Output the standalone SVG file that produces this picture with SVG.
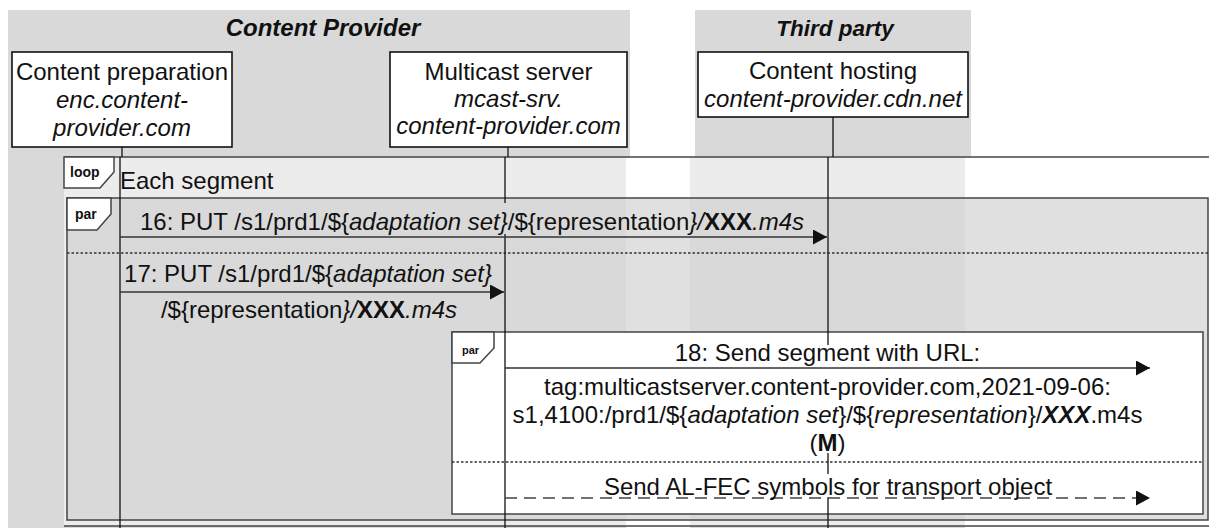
<svg xmlns="http://www.w3.org/2000/svg" width="1209" height="528" viewBox="0 0 1209 528">
<defs>
<style>
.t{font-family:"Liberation Sans",Arial,sans-serif;font-size:24px;fill:#111}
.tm{text-anchor:middle}
.i{font-style:italic}
.b{font-weight:bold}
.ttl{font-family:"Liberation Sans",Arial,sans-serif;font-weight:bold;font-style:italic;fill:#111;text-anchor:middle}
.tab{font-family:"Liberation Sans",Arial,sans-serif;font-weight:bold;fill:#111}
.band{fill:#d9d9d9}
.node{fill:#fff;stroke:#111;stroke-width:1.6}
.frame{stroke:#444;stroke-width:1.5}
.tabshape{fill:#fff;stroke:#444;stroke-width:1.5}
.sep{stroke:#333;stroke-width:1.3;stroke-dasharray:2.5 2;fill:none}
.life{stroke:#111;stroke-width:1.3;fill:none}
.msg{stroke:#333;stroke-width:1.5;fill:none}
.dash{stroke:#444;stroke-width:1.5;stroke-dasharray:12 7;fill:none}
</style>
<marker id="ah" markerUnits="userSpaceOnUse" markerWidth="16" markerHeight="16" refX="14" refY="7.5" orient="auto">
<path d="M0,0 L14,7.5 L0,15 z" fill="#111"/>
</marker>
</defs>
<rect width="1209" height="528" fill="#fff"/>

<g id="lanes">
<rect class="band" x="8" y="10" width="622" height="147"/>
<rect class="band" x="8" y="157" width="618" height="371"/>
<rect class="band" x="695" y="10" width="276" height="147"/>
<rect class="band" x="690" y="157" width="275" height="371"/>
<text class="ttl" x="323" y="36" font-size="24">Content Provider</text>
<text class="ttl" x="835" y="36" font-size="22.5">Third party</text>
</g>

<g id="loop">
<rect x="64" y="157" width="1145" height="369" fill="#fff" fill-opacity="0.5"/>
<line class="frame" x1="64" y1="157" x2="1209" y2="157"/>
<line class="frame" x1="64" y1="526" x2="1209" y2="526"/>
<path class="tabshape" d="M64,157 H114 V172 L100,188 H64 Z"/>
<text class="tab" x="70" y="177" font-size="14">loop</text>
<text class="t" x="120" y="189">Each segment</text>
</g>

<g id="par-outer">
<rect class="frame" x="67" y="198" width="1141" height="322" fill="rgb(206,206,206)" fill-opacity="0.632"/>
<path class="tabshape" d="M67,198 H111 V214 L97,230 H67 Z"/>
<text class="tab" x="75" y="219" font-size="14">par</text>
<line class="sep" x1="67" y1="253" x2="1208" y2="253"/>
</g>

<g id="par-inner">
<rect class="frame" x="452" y="332" width="751" height="182" fill="#fff"/>
<path class="tabshape" d="M452,332 H494 V348 L480,363 H452 Z"/>
<text class="tab" x="462" y="354" font-size="11">par</text>
<line class="sep" x1="452" y1="462" x2="1203" y2="462"/>
</g>

<g id="lifelines">
<line class="life" x1="122" y1="147" x2="122" y2="157"/>
<line class="life" x1="508" y1="147" x2="508" y2="157"/>
<line class="life" x1="833" y1="117" x2="833" y2="157"/>
<line class="life" x1="120" y1="157" x2="120" y2="528"/>
<line class="life" x1="505" y1="157" x2="505" y2="203"/>
<line class="life" x1="505" y1="234" x2="505" y2="528"/>
<line class="life" x1="828" y1="157" x2="828" y2="345"/>
<line class="life" x1="828" y1="453" x2="828" y2="474"/>
<line class="life" x1="828" y1="497" x2="828" y2="528"/>
</g>

<g id="node-content-preparation">
<rect class="node" x="12" y="52" width="220" height="95"/>
<text class="t tm" x="122" y="80">Content preparation</text>
<text class="t tm i" x="122" y="108">enc.content-</text>
<text class="t tm i" x="122" y="136">provider.com</text>
</g>

<g id="node-multicast-server">
<rect class="node" x="390" y="52" width="237" height="95"/>
<text class="t tm" x="508.5" y="80">Multicast server</text>
<text class="t tm i" x="508.5" y="107">mcast-srv.</text>
<text class="t tm i" x="508.5" y="134">content-provider.com</text>
</g>

<g id="node-content-hosting">
<rect class="node" x="698" y="52" width="270" height="65"/>
<text class="t tm" x="833" y="79">Content hosting</text>
<text class="t tm i" x="833" y="107">content-provider.cdn.net</text>
</g>

<g id="connectors">
<line class="msg" x1="120" y1="237" x2="827" y2="237" marker-end="url(#ah)"/>
<text class="t tm" x="472" y="230">16: PUT /s1/prd1/${<tspan class="i">adaptation set}</tspan>/${representation<tspan class="i">}/</tspan><tspan class="b">XXX</tspan><tspan class="i">.m4s</tspan></text>

<line class="msg" x1="120" y1="292" x2="504" y2="292" marker-end="url(#ah)"/>
<text class="t tm" x="308" y="282">17: PUT /s1/prd1/${<tspan class="i">adaptation set}</tspan></text>
<text class="t tm" x="309" y="318">/${representation<tspan class="i">}/</tspan><tspan class="b">XXX</tspan><tspan class="i">.m4s</tspan></text>

<line class="msg" x1="505" y1="368" x2="1150" y2="368" marker-end="url(#ah)"/>
<text class="t tm" x="827.5" y="361">18: Send segment with URL:</text>
<text class="t tm" x="827.5" y="395">tag:multicastserver.content-provider.com,2021-09-06:</text>
<text class="t tm" x="827.5" y="423">s1,4100:/prd1/${<tspan class="i">adaptation set</tspan>}/${<tspan class="i">representation</tspan>}/<tspan class="i b">XXX</tspan>.m4s</text>
<text class="t tm" x="827.5" y="451">(<tspan class="b">M</tspan>)</text>

<line class="dash" x1="505" y1="498" x2="1150" y2="498" marker-end="url(#ah)"/>
<text class="t tm" x="828" y="495">Send AL-FEC symbols for transport object</text>
</g>
</svg>
